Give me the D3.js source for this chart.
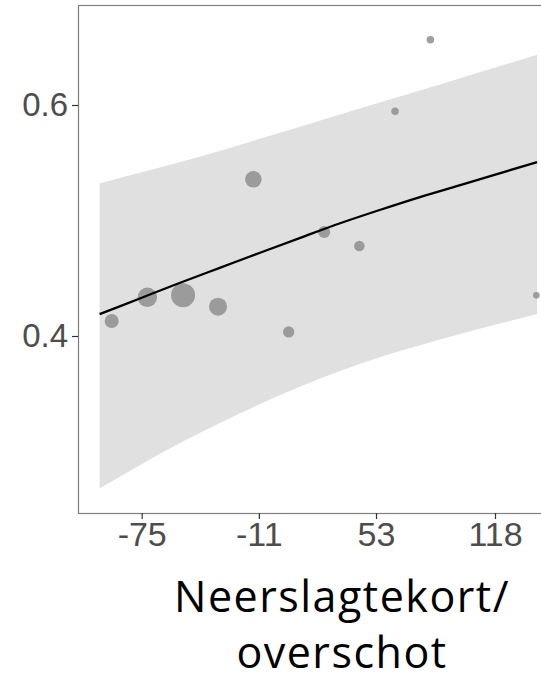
<!DOCTYPE html>
<html>
<head>
<meta charset="utf-8">
<script src="https://cdn.jsdelivr.net/npm/d3@7"></script>
<style>
  html, body { margin: 0; padding: 0; background: #fff; }
  svg { display: block; }
</style>
</head>
<body>
<svg id="chart" width="541" height="680"></svg>
<script>
// ---- data ----
const xTicks = [-75, -11, 53, 118];
const xTickLabels = ["-75", "-11", "53", "118"];
const yTicks = [0.4, 0.6];
const yTickLabels = ["0.4", "0.6"];
const xTitleLines = ["Neerslagtekort/", "overschot"];

// fitted curve and confidence band
const bandX     = [-98, -76, -54, -32, -10, 12, 33, 55, 77, 98, 120, 141];
const fitY      = [0.4189, 0.4325, 0.4461, 0.4592, 0.4723, 0.4852, 0.4974, 0.5091, 0.5203, 0.5302, 0.5406, 0.5506];
const upperY    = [0.5321, 0.5414, 0.5507, 0.5604, 0.5709, 0.5814, 0.5915, 0.6021, 0.6126, 0.6228, 0.6333, 0.6435];
const lowerY    = [0.2680, 0.2882, 0.3073, 0.3249, 0.3413, 0.3564, 0.3694, 0.3817, 0.3920, 0.4012, 0.4105, 0.4190];

// observed points
const pointX    = [-91.4, -71.9, -52.4, -33.3, -14.0, 5.3, 24.7, 43.9, 63.4, 82.7, 140.6];
const pointY    = [0.413, 0.4335, 0.4352, 0.4254, 0.5357, 0.4035, 0.490, 0.4779, 0.5945, 0.6565, 0.4352];
const pointW    = [49, 94, 144, 81, 69, 32, 36, 28, 14, 14, 11];

// ---- layout ----
const svg = d3.select("#chart");
const panel = { left: 78, top: 5, right: 600, bottom: 513 };

const x = d3.scaleLinear().domain([-75, 118]).range([141.7, 495]);
const y = d3.scaleLinear().domain([0.4, 0.6]).range([336, 105]);
const r = d3.scaleSqrt().domain([0, 144]).range([0, 12]);

const band = bandX.map((bx, i) => ({ x: bx, fit: fitY[i], lo: lowerY[i], hi: upperY[i] }));
const pts = pointX.map((px, i) => ({ x: px, y: pointY[i], w: pointW[i] }));

// panel background
svg.append("rect")
  .attr("x", panel.left).attr("y", panel.top)
  .attr("width", panel.right - panel.left).attr("height", panel.bottom - panel.top)
  .attr("fill", "#fff");

// ribbon
svg.append("path")
  .datum(band)
  .attr("fill", "#e0e0e0")
  .attr("d", d3.area()
    .x(d => x(d.x)).y0(d => y(d.lo)).y1(d => y(d.hi))
    .curve(d3.curveMonotoneX));

// points
svg.append("g").selectAll("circle")
  .data(pts)
  .join("circle")
  .attr("cx", d => x(d.x))
  .attr("cy", d => y(d.y))
  .attr("r", d => r(d.w))
  .attr("fill", "#8e8e8e")
  .attr("fill-opacity", 0.85);

// fitted line
svg.append("path")
  .datum(band)
  .attr("fill", "none")
  .attr("stroke", "#000")
  .attr("stroke-width", 2.3)
  .attr("d", d3.line().x(d => x(d.x)).y(d => y(d.fit)).curve(d3.curveMonotoneX));

// panel border
svg.append("rect")
  .attr("x", panel.left + 0.5).attr("y", panel.top + 0.5)
  .attr("width", panel.right - panel.left).attr("height", panel.bottom - panel.top)
  .attr("fill", "none")
  .attr("stroke", "#7f7f7f")
  .attr("stroke-width", 1.2);

const tickFont = "'Liberation Sans', Arial, sans-serif";

// y axis
const yAxis = d3.axisLeft(y)
  .tickValues(yTicks)
  .tickFormat((d, i) => yTickLabels[i])
  .tickSize(6)
  .tickPadding(4);
const gy = svg.append("g").attr("transform", `translate(${panel.left},0)`).call(yAxis);
gy.attr("font-family", null).attr("font-size", null);
gy.select(".domain").remove();
gy.selectAll(".tick line").attr("stroke", "#333").attr("stroke-width", 1.2);
gy.selectAll(".tick text")
  .attr("fill", "#4d4d4d")
  .attr("font-family", tickFont)
  .attr("font-size", 33);

// x axis
const xAxis = d3.axisBottom(x)
  .tickValues(xTicks)
  .tickFormat((d, i) => xTickLabels[i])
  .tickSize(6)
  .tickPadding(3);
const gx = svg.append("g").attr("transform", `translate(0,${panel.bottom})`).call(xAxis);
gx.attr("font-family", null).attr("font-size", null);
gx.select(".domain").remove();
gx.selectAll(".tick line").attr("stroke", "#333").attr("stroke-width", 1.2);
gx.selectAll(".tick text")
  .attr("fill", "#4d4d4d")
  .attr("font-family", tickFont)
  .attr("font-size", 34);

// x axis title
const title = svg.append("text")
  .attr("text-anchor", "middle")
  .attr("fill", "#000")
  .attr("font-family", "'Open Sans', sans-serif")
  .attr("font-size", 43)
  .attr("letter-spacing", 1.5);
title.selectAll("tspan")
  .data(xTitleLines)
  .join("tspan")
  .attr("x", 342)
  .attr("y", (d, i) => 612 + i * 56)
  .text(d => d);
</script>
</body>
</html>
